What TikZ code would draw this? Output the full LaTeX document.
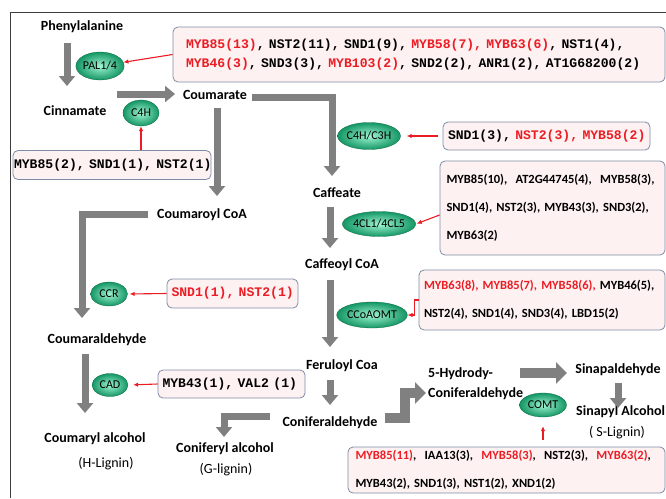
\documentclass[tikz,border=0pt]{standalone}
\usepackage{fontspec}
\setmainfont{Carlito}
\newfontfamily\courfont{Liberation Mono}
\usetikzlibrary{shapes.geometric}
\usetikzlibrary{arrows.meta}
\definecolor{hit}{RGB}{236,28,36}
\definecolor{flowgray}{RGB}{128,128,128}
\definecolor{boxline}{RGB}{125,140,165}
\definecolor{boxpink}{RGB}{253,241,241}
\definecolor{enzlight}{RGB}{160,245,210}
\definecolor{enzgreen}{RGB}{20,150,100}
\definecolor{framec}{RGB}{60,60,60}
\tikzset{
	metab/.style={font=\bfseries\fontsize{14}{20}\selectfont, inner sep=0pt},
	lig/.style={font=\fontsize{14}{16}\selectfont, inner sep=0pt},
	enz/.style={ellipse, inner color=enzlight, outer color=enzgreen, draw=enzgreen!70!black, line width=0.3pt, inner sep=0pt, font=\fontsize{12}{13}\selectfont},
	tfbox/.style={draw=boxline, line width=0.8pt, rounded corners=5pt, fill=boxpink, inner sep=0pt, align=left},
	monolist/.style={font=\courfont\bfseries\fontsize{13.1}{19}\selectfont},
	sanslist/.style={font=\bfseries\fontsize{12.5}{28}\selectfont},
	flow/.style={flowgray, line width=7pt, line join=miter, -{Triangle[width=16pt,length=10pt]}},
	bigflow/.style={flowgray, line width=10pt, line join=miter, -{Triangle[width=21pt,length=11pt]}},
	reg/.style={hit, line width=1.1pt, -{Latex[length=5pt,width=4.5pt]}},
}

\begin{document}
\begin{tikzpicture}[x=1pt,y=-1pt]
	\useasboundingbox (0,0) rectangle (666,498);
	\draw[framec, line width=0.8pt] (10,498) -- (10,12) -- (666,12);
	% metabolites
	\node[metab] (Phe) at (82,27) {Phenylalanine};
	\node[metab] (Cin) at (75,111) {Cinnamate};
	\node[metab] (Cou) at (215,95) {Coumarate};
	\node[metab] (Caf) at (337,193) {Caffeate};
	\node[metab] (CouCoA) at (202,215) {Coumaroyl CoA};
	\node[metab] (CafCoA) at (342,265) {Caffeoyl CoA};
	\node[metab] (CouAld) at (97,340) {Coumaraldehyde};
	\node[metab] (Fer) at (342,366) {Feruloyl Coa};
	\node[metab] (ConAld) at (330,423) {Coniferaldehyde};
	\node[metab] (CouAlc) at (95,439) {Coumaryl alcohol};
	\node[lig] (Hlig) at (106,464) {(H-Lignin)};
	\node[metab] (ConAlc) at (225,449) {Coniferyl alcohol};
	\node[lig] (Glig) at (226,470) {(G-lignin)};
	\node[metab, anchor=west, align=left] (Hyd) at (428,384) {5-Hydrody-\\Coniferaldehyde};
	\node[metab] (SinAld) at (618,370) {Sinapaldehyde};
	\node[metab, anchor=west] (SinAlc) at (576,412) {Sinapyl Alcohol};
	\node[lig] (Slig) at (617,433) {( S-Lignin)};
	% enzymes
	\node[enz, minimum width=48pt, minimum height=28pt] (pal) at (100,66) {PAL1/4};
	\node[enz, minimum width=36pt, minimum height=26pt] (c4h) at (141,113) {C4H};
	\node[enz, minimum width=56pt, minimum height=27pt] (c3h) at (369,136) {C4H/C3H};
	\node[enz, minimum width=68pt, minimum height=25pt] (cl) at (379,224) {4CL1/4CL5};
	\node[enz, minimum width=37pt, minimum height=24pt] (ccr) at (109,294) {CCR};
	\node[enz, minimum width=63pt, minimum height=26pt] (ccoa) at (372,315) {CCoAOMT};
	\node[enz, minimum width=36pt, minimum height=23pt] (cad) at (110,385) {CAD};
	\node[enz, minimum width=47pt, minimum height=24pt] (comt) at (543,405) {COMT};
	% regulator boxes
	\node[tfbox, monolist, minimum width=492pt, minimum height=55pt, text width=466pt] (palbox) at (419,54.5)
		{\textcolor{hit}{MYB85(13)},~NST2(11),~SND1(9),~\textcolor{hit}{MYB58(7),~MYB63(6)},~NST1(4),\\
		\textcolor{hit}{MYB46(3)},~SND3(3),~\textcolor{hit}{MYB103(2)},~SND2(2),~ANR1(2),~AT1G68200(2)};
	\node[tfbox, monolist, minimum width=198pt, minimum height=29pt, text width=196pt] (c4hbox) at (112,165)
		{MYB85(2),~SND1(1),~NST2(1)};
	\node[tfbox, monolist, minimum width=207pt, minimum height=28pt, text width=197pt] (c3hbox) at (546.5,136)
		{SND1(3),~\textcolor{hit}{NST2(3),~MYB58(2)}};
	\node[tfbox, sanslist, minimum width=225pt, minimum height=94pt, text width=212pt] (clbox) at (552.5,208)
		{MYB85(10), \ AT2G44745(4), \ MYB58(3),\\
		SND1(4), NST2(3), MYB43(3), SND3(2),\\
		MYB63(2)};
	\node[tfbox, monolist, minimum width=131pt, minimum height=29pt, text width=122pt] (ccrbox) at (232.5,293.5)
		{\textcolor{hit}{SND1(1),~NST2(1)}};
	\node[tfbox, sanslist, minimum width=246pt, minimum height=60pt, text width=236pt] (ccoabox) at (542,300)
		{\textcolor{hit}{MYB63(8), MYB85(7), MYB58(6),} MYB46(5),\\
		NST2(4), SND1(4), SND3(4), LBD15(2)};
	\node[tfbox, monolist, minimum width=147pt, minimum height=28pt, text width=138pt] (cadbox) at (231.5,384)
		{MYB43(1),~VAL2~(1)};
	\node[tfbox, sanslist, minimum width=317pt, minimum height=46pt, text width=302pt] (comtbox) at (506.5,470)
		{\textcolor{hit}{MYB85(11)}, \ IAA13(3), \ \textcolor{hit}{MYB58(3)}, \ NST2(3), \ \textcolor{hit}{MYB63(2)},\\
		MYB43(2), SND1(3), NST1(2), XND1(2)};
	% pathway arrows
	\coordinate (a1) at (67,43);   \coordinate (b1) at (67,86);
	\coordinate (a2) at (117,94);  \coordinate (b2) at (175,94);
	\coordinate (a3) at (252,97);  \coordinate (b3) at (332,176);
	\coordinate (a4) at (217,108); \coordinate (b4) at (217,196);
	\coordinate (a5) at (148,214); \coordinate (b5) at (82,318);
	\coordinate (a6) at (330,207); \coordinate (b6) at (330,248);
	\coordinate (a7) at (330,280); \coordinate (b7) at (330,347);
	\coordinate (a8) at (85,354);  \coordinate (b8) at (85,413);
	\coordinate (a9) at (330,380); \coordinate (b9) at (330,405);
	\coordinate (a10) at (270,416); \coordinate (b10) at (224,437);
	\coordinate (a11) at (385,418); \coordinate (b11) at (426,393);
	\coordinate (a12) at (520,373); \coordinate (b12) at (567,373);
	\coordinate (a13) at (618,383); \coordinate (b13) at (618,408);
	\draw[flow] (a1) -- (b1);
	\draw[flow] (a2) -- (b2);
	\draw[flow] (a3) -| (b3);
	\draw[flow] (a4) -- (b4);
	\draw[flow] (a5) -| (b5);
	\draw[flow] (a6) -- (b6);
	\draw[flow] (a7) -- (b7);
	\draw[flow] (a8) -- (b8);
	\draw[flow] (a9) -- (b9);
	\draw[flow] (a10) -| (b10);
	\draw[bigflow] (a11) -- (405,418) |- (b11);
	\draw[bigflow] (a12) -- (b12);
	\draw[flow] (a13) -- (b13);
	% regulation
	\draw[reg] (palbox.west) -- (pal);
	\draw[reg] (c4hbox.north -| c4h) -- (c4h.south);
	\draw[reg, shorten <=5pt, shorten >=6pt] (c3hbox.west) -- (c3h.east);
	\draw[reg, shorten >=1pt] ([yshift=-7pt]clbox.west) -- (cl.east);
	\draw[reg, shorten >=2pt] (ccrbox.west) -- (ccr.east);
	\draw[reg, shorten >=5pt] (cadbox.west) -- (cad.east);
	\draw[reg] (ccoabox.west) -- +(-4,0) |- (ccoa.east);
	\draw[reg, shorten <=7pt, shorten >=9pt] (comtbox.north -| comt) -- (comt.south);
\end{tikzpicture}
\end{document}
